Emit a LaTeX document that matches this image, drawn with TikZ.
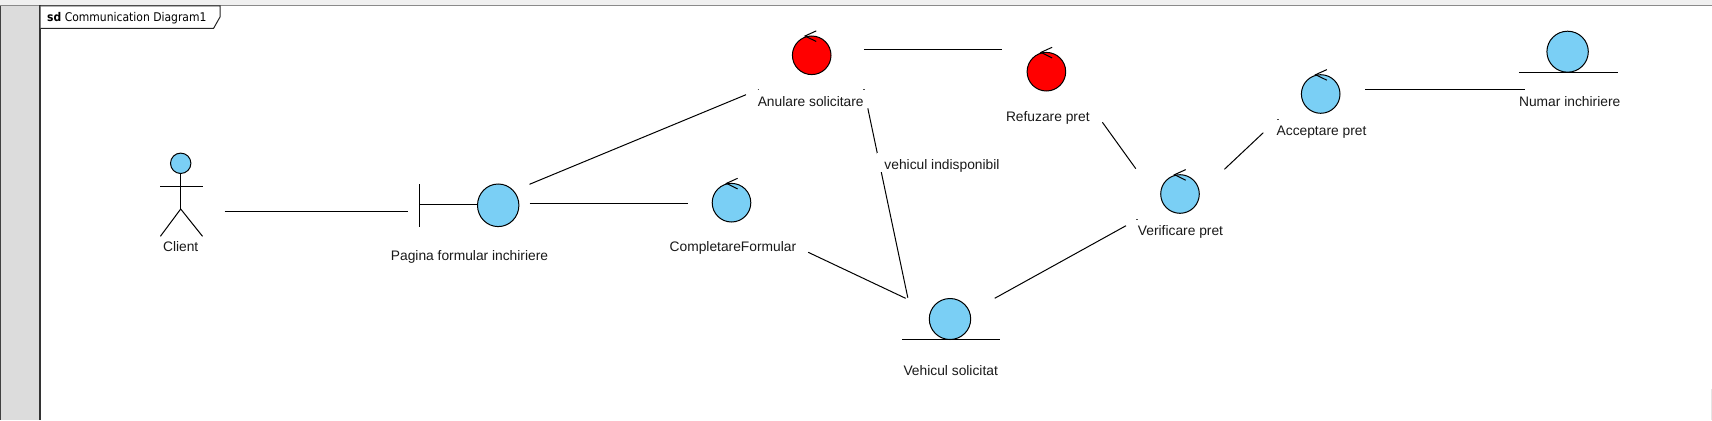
\documentclass[tikz,border=0pt]{standalone}
\usepackage{fontspec}
\setmainfont{Liberation Sans}
\newfontfamily\tabfont{DejaVu Sans Condensed}
\usetikzlibrary{shapes.geometric,calc}
\definecolor{entblue}{HTML}{7ACFF5}
\definecolor{panelgray}{HTML}{DCDCDC}
\definecolor{topgray}{HTML}{F0F0F0}
\definecolor{topline}{HTML}{8A8A8A}
\tikzset{
  conn/.style={draw=black,line width=1pt},
  shapeline/.style={draw=black,line width=1pt},
  lbl/.style={font=\fontsize{13.8}{16}\selectfont,inner sep=0pt,text=black!90},
  speck/.style={draw=black!70,line width=0.5pt},
  ball/.style={ellipse,draw=black,line width=1pt,inner sep=0pt}
}
\newcommand{\ctrlobj}[8]{%
  \node[ball,fill=#2,minimum width=38.6pt,minimum height=38.6pt] (#1) at (#3,#4) {};
  \coordinate (#1tip) at (#5,#4-19.3);
  \coordinate (#1up) at (#5+11.2,#4-24.4);
  \coordinate (#1dn) at (#5+11.2,#4-13.8);
  \draw[shapeline] (#1up) -- (#1tip) -- (#1dn);
  \node[lbl] (#1lbl) at (#6,#7+1.8) {#8};
}
\newcommand{\entobj}[8]{%
  \node[ball,fill=entblue,minimum width=41.4pt,minimum height=41pt] (#1) at (#2,#3) {};
  \coordinate (#1L) at (#4,#6);
  \coordinate (#1R) at (#5,#6);
  \draw[shapeline] (#1L) -- (#1R);
  \node[lbl] (#1lbl) at (#7,#8+1.5) {\entlabel};
}
\begin{document}
\begin{tikzpicture}[x=1pt,y=-1pt]
\useasboundingbox (0,0) rectangle (1712,420);
\fill[white] (0,0) rectangle (1712,420);
\fill[topgray] (0,0) rectangle (1712,5);
\draw[topline,line width=1pt] (0,5.4) -- (1712,5.4);
\fill[panelgray] (0,6) rectangle (39.5,420);
\draw[black!75,line width=0.8pt] (0.4,6) -- (0.4,420);
\draw[black!80,line width=2pt] (40,5.4) -- (40,420);
\fill[black!10] (1711,389) rectangle (1712,420);
% frame tab
\draw[black!85,line width=1pt,fill=white] (40.5,6) -- (220,6) -- (220,17) -- (213.5,28.5) -- (40.5,28.5);
\node[anchor=base west,inner sep=0pt,font=\tabfont\fontsize{12}{14}\selectfont] (tabtext) at (47,22) {\textbf{sd} Communication Diagram1};
% Client actor
\node[ball,fill=entblue,minimum width=20.4pt,minimum height=20.4pt] (client) at (180.7,163.3) {};
\coordinate (clienthip) at (180.7,209);
\coordinate (clientarmL) at (160.4,186.3);
\coordinate (clientarmR) at (202.5,186.3);
\coordinate (clientfootL) at (160.4,236.3);
\coordinate (clientfootR) at (202.5,236.3);
\draw[shapeline] (client.south) -- (clienthip);
\draw[shapeline] (clientarmL) -- (clientarmR);
\draw[shapeline] (clientfootL) -- (clienthip) -- (clientfootR);
\node[lbl] (clientlbl) at (180.7,247) {Client};
% boundary
\node[ball,fill=entblue,minimum width=41.4pt,minimum height=42.6pt] (page) at (498.2,205.3) {};
\coordinate (pagetop) at (419.6,184);
\coordinate (pagebot) at (419.6,226.7);
\coordinate (pagemid) at (419.6,204.3);
\draw[shapeline] (pagetop) -- (pagebot);
\draw[shapeline] (pagemid) -- (pagemid -| page.west);
\node[lbl] (pagelbl) at (469.5,256.7) {Pagina formular inchiriere};
% controls
\ctrlobj{anul}{red}{811.7}{55.3}{805}{810.7}{100}{Anulare solicitare}
\ctrlobj{refuz}{red}{1046.4}{71.7}{1040.9}{1047.8}{116.3}{Refuzare pret}
\ctrlobj{compl}{entblue}{731.5}{202.7}{726.4}{732.9}{246.3}{CompletareFormular}
\ctrlobj{verif}{entblue}{1180}{194}{1174.5}{1180.5}{230.3}{Verificare pret}
\ctrlobj{accept}{entblue}{1320.7}{94}{1315.6}{1321.5}{130.3}{Acceptare pret}
% entities
\def\entlabel{Vehicul solicitat}
\entobj{vehicul}{950}{319}{902}{1000.2}{339.3}{950.7}{369.3}
\def\entlabel{Numar inchiriere}
\entobj{numar}{1567.6}{51.7}{1518.9}{1617.5}{72}{1569.7}{100.3}
% connector ends
\coordinate (e1a) at (224.7,211.3);  \coordinate (e1b) at (408.4,211.3);
\coordinate (e2a) at (529.5,184.3);  \coordinate (e2b) at (746,94.7);
\coordinate (e3a) at (529.5,203.3);  \coordinate (e3b) at (687.5,203.3);
\coordinate (e4a) at (863.8,49.3);   \coordinate (e4b) at (1002.4,49.3);
\coordinate (e5a) at (1102.4,122.3); \coordinate (e5b) at (1135.8,168.7);
\coordinate (e6a) at (867.8,108.3);  \coordinate (e6b) at (907.8,297.7);
\coordinate (e7a) at (808.2,252.3);  \coordinate (e7b) at (905.6,298.3);
\coordinate (e8a) at (994.7,298.3);  \coordinate (e8b) at (1126,225.7);
\coordinate (e9a) at (1224.4,169.3); \coordinate (e9b) at (1263.3,132.7);
\coordinate (e10a) at (1365.1,89.3); \coordinate (e10b) at (1524.5,89.3);
\foreach \n in {1,...,10} \draw[conn] (e\n a) -- (e\n b);
% message label interrupting its connector
\node[fill=white,minimum width=130pt,minimum height=19pt,inner sep=0pt] (msgbox) at (942,162.5) {};
\node[lbl] (msg) at (942,166.1) {vehicul indisponibil};
% specks left at label corners
\draw[speck] (757.6,89.3) -- (759.4,89.3);
\draw[speck] (863,89.3) -- (864.6,89.3);
\draw[speck] (1136,219.3) -- (1137.6,219.3);
\draw[speck] (1277,119.3) -- (1278.6,119.3);
\end{tikzpicture}
\end{document}
